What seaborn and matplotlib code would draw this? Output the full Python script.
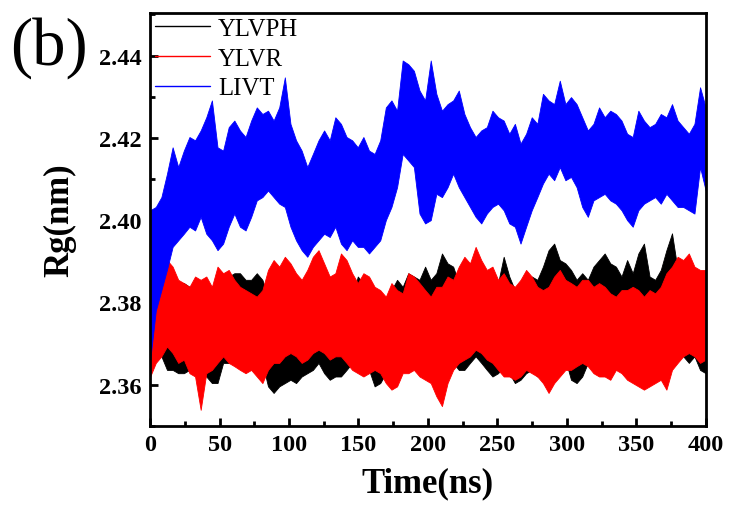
import numpy as np
import pandas as pd
import matplotlib
matplotlib.use("Agg")
import matplotlib.pyplot as plt
import seaborn as sns

# Rg envelopes, one value per 4 ns window (0-400 ns)
# upper / lower edge of each trace
ylvph_top = [2.3838, 2.3830, 2.3830, 2.3814, 2.3814, 2.3847, 2.3847, 2.3838, 2.3838, 2.3830,
             2.3830, 2.3814, 2.3814, 2.3855, 2.3863, 2.3871, 2.3871, 2.3855, 2.3855, 2.3871,
             2.3855, 2.3814, 2.3790, 2.3798, 2.3774, 2.3766, 2.3782, 2.3766, 2.3774, 2.3798,
             2.3790, 2.3814, 2.3790, 2.3774, 2.3758, 2.3766, 2.3814, 2.3863, 2.3847, 2.3790,
             2.3750, 2.3766, 2.3790, 2.3830, 2.3855, 2.3838, 2.3871, 2.3863, 2.3855, 2.3887,
             2.3855, 2.3871, 2.3919, 2.3895, 2.3887, 2.3847, 2.3830, 2.3838, 2.3871, 2.3855,
             2.3838, 2.3822, 2.3847, 2.3911, 2.3863, 2.3830, 2.3830, 2.3830, 2.3863, 2.3855,
             2.3887, 2.3927, 2.3943, 2.3903, 2.3895, 2.3879, 2.3855, 2.3871, 2.3855, 2.3887,
             2.3903, 2.3919, 2.3895, 2.3887, 2.3863, 2.3903, 2.3871, 2.3919, 2.3943, 2.3863,
             2.3855, 2.3879, 2.3927, 2.3968, 2.3879, 2.3863, 2.3838, 2.3863, 2.3871, 2.3847]
ylvph_bot = [2.3636, 2.3669, 2.3669, 2.3636, 2.3636, 2.3628, 2.3628, 2.3636, 2.3636, 2.3620,
             2.3620, 2.3604, 2.3604, 2.3653, 2.3653, 2.3661, 2.3661, 2.3669, 2.3669, 2.3693,
             2.3653, 2.3596, 2.3580, 2.3596, 2.3604, 2.3612, 2.3604, 2.3620, 2.3628, 2.3636,
             2.3653, 2.3628, 2.3612, 2.3620, 2.3620, 2.3636, 2.3653, 2.3669, 2.3653, 2.3636,
             2.3596, 2.3604, 2.3628, 2.3645, 2.3669, 2.3685, 2.3677, 2.3661, 2.3653, 2.3669,
             2.3661, 2.3685, 2.3701, 2.3685, 2.3653, 2.3636, 2.3636, 2.3653, 2.3669, 2.3653,
             2.3636, 2.3620, 2.3628, 2.3645, 2.3628, 2.3604, 2.3612, 2.3628, 2.3636, 2.3620,
             2.3636, 2.3669, 2.3693, 2.3677, 2.3661, 2.3612, 2.3604, 2.3620, 2.3653, 2.3677,
             2.3701, 2.3709, 2.3701, 2.3693, 2.3669, 2.3685, 2.3677, 2.3709, 2.3717, 2.3669,
             2.3653, 2.3669, 2.3709, 2.3725, 2.3685, 2.3669, 2.3653, 2.3669, 2.3636, 2.3628]

ylvr_top = [2.3798, 2.3822, 2.3879, 2.3903, 2.3887, 2.3855, 2.3847, 2.3838, 2.3863, 2.3855,
            2.3863, 2.3838, 2.3887, 2.3871, 2.3879, 2.3855, 2.3838, 2.3830, 2.3822, 2.3814,
            2.3830, 2.3879, 2.3903, 2.3887, 2.3911, 2.3895, 2.3871, 2.3855, 2.3879, 2.3911,
            2.3927, 2.3895, 2.3863, 2.3871, 2.3919, 2.3903, 2.3871, 2.3847, 2.3871, 2.3863,
            2.3838, 2.3830, 2.3814, 2.3847, 2.3830, 2.3822, 2.3871, 2.3863, 2.3847, 2.3830,
            2.3814, 2.3838, 2.3838, 2.3863, 2.3855, 2.3887, 2.3911, 2.3895, 2.3935, 2.3903,
            2.3879, 2.3887, 2.3855, 2.3871, 2.3847, 2.3838, 2.3855, 2.3879, 2.3863, 2.3838,
            2.3830, 2.3838, 2.3863, 2.3879, 2.3855, 2.3847, 2.3838, 2.3855, 2.3855, 2.3838,
            2.3847, 2.3838, 2.3822, 2.3814, 2.3830, 2.3830, 2.3838, 2.3830, 2.3814, 2.3830,
            2.3822, 2.3838, 2.3871, 2.3887, 2.3911, 2.3903, 2.3919, 2.3887, 2.3879, 2.3879]
ylvr_bot = [2.3620, 2.3653, 2.3669, 2.3693, 2.3677, 2.3653, 2.3661, 2.3628, 2.3620, 2.3539,
            2.3628, 2.3636, 2.3653, 2.3669, 2.3653, 2.3645, 2.3636, 2.3628, 2.3636, 2.3620,
            2.3604, 2.3636, 2.3653, 2.3653, 2.3669, 2.3677, 2.3669, 2.3653, 2.3661, 2.3677,
            2.3685, 2.3677, 2.3661, 2.3669, 2.3669, 2.3653, 2.3636, 2.3628, 2.3620, 2.3628,
            2.3636, 2.3628, 2.3604, 2.3588, 2.3596, 2.3628, 2.3628, 2.3636, 2.3620, 2.3612,
            2.3604, 2.3572, 2.3548, 2.3604, 2.3636, 2.3653, 2.3661, 2.3669, 2.3685, 2.3677,
            2.3661, 2.3653, 2.3636, 2.3620, 2.3620, 2.3612, 2.3620, 2.3636, 2.3628, 2.3620,
            2.3604, 2.3580, 2.3604, 2.3620, 2.3636, 2.3636, 2.3645, 2.3653, 2.3645, 2.3628,
            2.3620, 2.3620, 2.3612, 2.3636, 2.3628, 2.3612, 2.3604, 2.3596, 2.3588, 2.3596,
            2.3604, 2.3612, 2.3588, 2.3636, 2.3653, 2.3669, 2.3677, 2.3669, 2.3653, 2.3661]

livt_top = [2.4024, 2.4032, 2.4056, 2.4113, 2.4177, 2.4129, 2.4169, 2.4202, 2.4194, 2.4218,
            2.4250, 2.4291, 2.4177, 2.4169, 2.4226, 2.4242, 2.4218, 2.4202, 2.4242, 2.4274,
            2.4258, 2.4266, 2.4242, 2.4274, 2.4347, 2.4234, 2.4194, 2.4169, 2.4129, 2.4161,
            2.4194, 2.4218, 2.4194, 2.4250, 2.4234, 2.4202, 2.4194, 2.4177, 2.4202, 2.4169,
            2.4161, 2.4194, 2.4274, 2.4291, 2.4266, 2.4388, 2.4379, 2.4363, 2.4315, 2.4291,
            2.4388, 2.4307, 2.4266, 2.4282, 2.4291, 2.4315, 2.4258, 2.4226, 2.4202, 2.4218,
            2.4226, 2.4266, 2.4250, 2.4242, 2.4210, 2.4234, 2.4186, 2.4210, 2.4250, 2.4234,
            2.4307, 2.4291, 2.4282, 2.4339, 2.4282, 2.4299, 2.4282, 2.4250, 2.4218, 2.4234,
            2.4274, 2.4250, 2.4266, 2.4258, 2.4242, 2.4210, 2.4202, 2.4266, 2.4242, 2.4226,
            2.4234, 2.4258, 2.4250, 2.4282, 2.4242, 2.4226, 2.4210, 2.4234, 2.4323, 2.4274]
livt_bot = [2.3660, 2.3780, 2.3830, 2.3880, 2.3935, 2.3951, 2.3967, 2.3984, 2.3975, 2.4008,
            2.3967, 2.3951, 2.3927, 2.3943, 2.3984, 2.4016, 2.3984, 2.3975, 2.4008, 2.4048,
            2.4056, 2.4072, 2.4056, 2.4040, 2.4032, 2.3984, 2.3951, 2.3927, 2.3911, 2.3935,
            2.3951, 2.3967, 2.3959, 2.3984, 2.3943, 2.3927, 2.3951, 2.3935, 2.3935, 2.3919,
            2.3935, 2.3951, 2.4000, 2.4032, 2.4080, 2.4161, 2.4145, 2.4129, 2.4016, 2.3992,
            2.4000, 2.4064, 2.4056, 2.4080, 2.4113, 2.4080, 2.4056, 2.4032, 2.4008, 2.3992,
            2.4016, 2.4032, 2.4040, 2.4024, 2.3992, 2.3984, 2.3943, 2.3984, 2.4024, 2.4056,
            2.4089, 2.4113, 2.4097, 2.4129, 2.4097, 2.4105, 2.4080, 2.4032, 2.4008, 2.4048,
            2.4056, 2.4064, 2.4048, 2.4040, 2.4024, 2.4000, 2.3984, 2.4024, 2.4040, 2.4048,
            2.4056, 2.4040, 2.4064, 2.4048, 2.4032, 2.4032, 2.4024, 2.4016, 2.4129, 2.4072]

series_names = ["YLVPH", "YLVR", "LIVT"]
colors = ["black", "red", "blue"]
time_ns = np.linspace(0, 400, len(livt_top))

# long form: two rows per time point, seaborn draws the min-max band
frames = []
for name, top, bot in [("YLVPH", ylvph_top, ylvph_bot),
                       ("YLVR", ylvr_top, ylvr_bot),
                       ("LIVT", livt_top, livt_bot)]:
    frames.append(pd.DataFrame({"time": time_ns, "rg": top, "series": name}))
    frames.append(pd.DataFrame({"time": time_ns, "rg": bot, "series": name}))
df = pd.concat(frames, ignore_index=True)

sns.set_style("ticks")
plt.rcParams["font.family"] = ["Liberation Serif", "DejaVu Serif"]
plt.rcParams.update({"text.color": "black", "axes.labelcolor": "black",
                     "xtick.color": "black", "ytick.color": "black",
                     "axes.edgecolor": "black"})

fig = plt.figure(figsize=(7.29, 5.10), dpi=100)
ax = fig.add_axes([0.206, 0.163, 0.762, 0.810])

# mean line hidden (it would sit on top of the other bands), band only
sns.lineplot(data=df, x="time", y="rg", hue="series", hue_order=series_names,
             palette=colors, errorbar=("pi", 100), err_kws={"alpha": 1, "linewidth": 0.6},
             linewidth=0, ax=ax)

ax.set_xlim(0, 400)
ax.set_ylim(2.35, 2.4504)
ax.set_xticks(np.arange(0, 401, 50))
ax.set_xticks(np.arange(25, 400, 50), minor=True)
ax.set_yticks([2.36, 2.38, 2.40, 2.42, 2.44])
ax.set_yticks([2.35, 2.37, 2.39, 2.41, 2.43, 2.45], minor=True)
ax.set_yticklabels(["2.36", "2.38", "2.40", "2.42", "2.44"])

ax.tick_params(which="major", direction="in", length=6, width=2, labelsize=17.5, pad=6)
ax.tick_params(which="minor", direction="in", length=3.5, width=2)
for lab in ax.get_xticklabels() + ax.get_yticklabels():
    lab.set_fontweight("bold")
for sp in ax.spines.values():
    sp.set_linewidth(2)
    sp.set_visible(True)

ax.set_xlabel("Time(ns)", fontsize=25, fontweight="bold", labelpad=8)
ax.set_ylabel("Rg(nm)", fontsize=25, fontweight="bold", labelpad=16)

handles, labels = ax.get_legend_handles_labels()
leg = ax.legend(handles, labels, loc="upper left", bbox_to_anchor=(0.0, 1.0),
                frameon=False, fontsize=17.8, handlelength=2.2, handletextpad=0.35,
                labelspacing=0.3, borderpad=0.1, borderaxespad=0.1)
for line in leg.get_lines():
    line.set_linewidth(1.0)

fig.text(0.014, 0.905, "(b)", fontsize=48, ha="left", va="center")

fig.savefig("out.png", dpi=100)
